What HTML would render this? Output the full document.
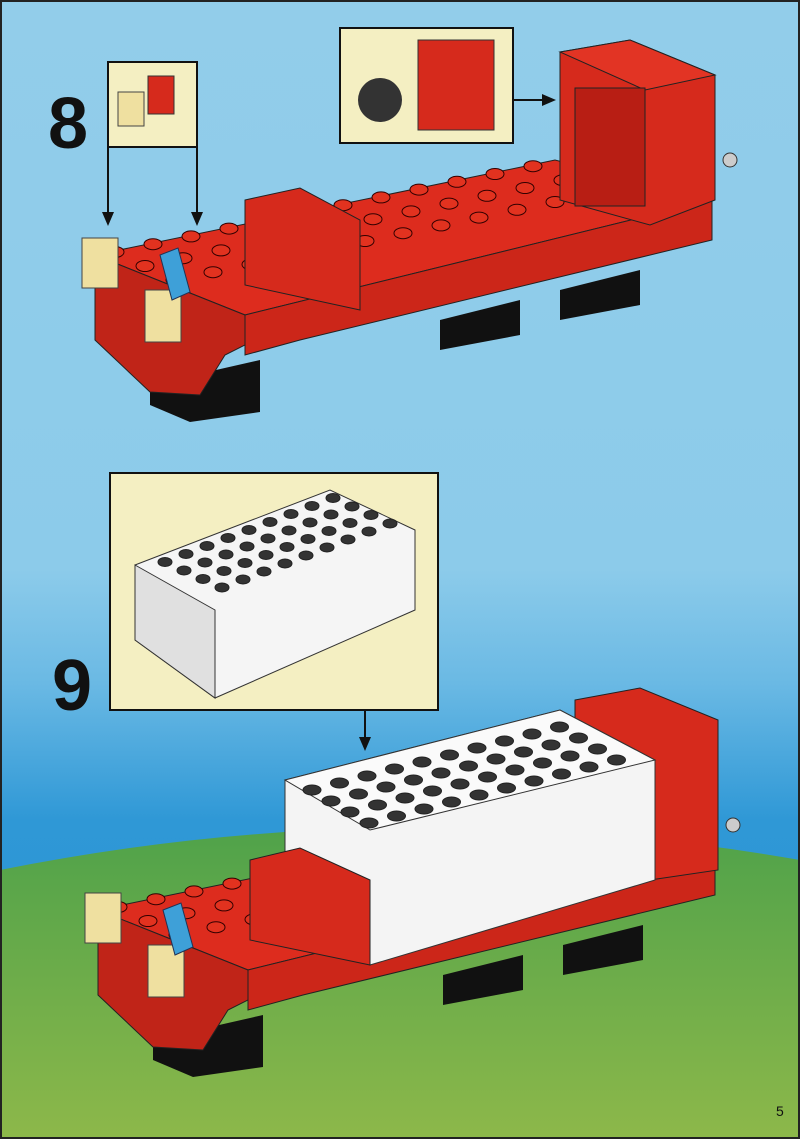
<!DOCTYPE html>
<html><head><meta charset="utf-8"><style>
html,body{margin:0;padding:0;width:800px;height:1139px;overflow:hidden;background:#8fcbe9}
svg{display:block}
text{font-family:"Liberation Sans",sans-serif}
</style></head><body>
<svg id="s" width="800" height="1139" viewBox="0 0 800 1139" xmlns="http://www.w3.org/2000/svg">
<defs>
<linearGradient id="sky" x1="0" y1="0" x2="0" y2="1">
<stop offset="0" stop-color="#92cdea"/>
<stop offset="0.5" stop-color="#8ccbea"/>
<stop offset="0.6" stop-color="#6ab9e4"/>
<stop offset="0.72" stop-color="#2f98d6"/>
<stop offset="1" stop-color="#2a8fd0"/>
</linearGradient>
<linearGradient id="grass" x1="0" y1="0" x2="0" y2="1">
<stop offset="0" stop-color="#4fa24a"/>
<stop offset="1" stop-color="#8db84a"/>
</linearGradient>
<g id="chassis">
  <polygon points="150,385 260,360 260,412 190,422 150,405" fill="#111"/>
  <polygon points="440,320 520,300 520,335 440,350" fill="#111"/>
  <polygon points="560,290 640,270 640,305 560,320" fill="#111"/>
  <polygon points="95,255 555,160 712,200 245,315" fill="#dd2c1e" stroke="#222"/>
  <polygon points="95,255 245,315 245,345 225,355 200,395 150,392 95,340" fill="#c02418" stroke="#222"/>
  <polygon points="245,315 712,200 712,240 300,340 245,355" fill="#cc2619" stroke="#222"/>
  <g id="studs" fill="#e2321f" stroke="#300" stroke-width="1"></g>
  <rect x="82" y="238" width="36" height="50" fill="#efe0a0" stroke="#444"/>
  <rect x="145" y="290" width="36" height="52" fill="#efe0a0" stroke="#444"/>
  <polygon points="160,255 178,248 190,292 172,300" fill="#3ea0d8" stroke="#235"/>
</g>
</defs>
<rect width="800" height="1139" fill="url(#sky)"/>
<path d="M0 870 Q400 790 800 860 V1139 H0 Z" fill="url(#grass)"/>

<text x="48" y="148" font-size="72" font-weight="bold" fill="#111">8</text>
<rect x="108" y="62" width="89" height="85" fill="#f4efc2" stroke="#111" stroke-width="2"/>
<rect x="118" y="92" width="26" height="34" fill="#efe0a0" stroke="#444"/>
<rect x="148" y="76" width="26" height="38" fill="#d62a1c" stroke="#333"/>
<path d="M108 147 V222 M197 147 V222" stroke="#111" stroke-width="2"/>
<path d="M102 212 L108 226 L114 212 Z M191 212 L197 226 L203 212 Z" fill="#111"/>

<rect x="340" y="28" width="173" height="115" fill="#f4efc2" stroke="#111" stroke-width="2"/>
<rect x="418" y="40" width="76" height="90" fill="#d62a1c" stroke="#333"/>
<circle cx="380" cy="100" r="22" fill="#333"/>
<path d="M513 100 H550" stroke="#111" stroke-width="2"/>
<path d="M542 94 L556 100 L542 106 Z" fill="#111"/>

<use href="#chassis"/>
<polygon points="560,52 630,40 715,75 715,200 650,225 560,200" fill="#d62a1c" stroke="#222"/>
<polygon points="560,52 630,40 715,75 645,90" fill="#e23424" stroke="#222"/>
<rect x="575" y="88" width="70" height="118" fill="#b81e14" stroke="#222"/>
<polygon points="245,200 300,188 360,220 360,310 245,285" fill="#d62a1c" stroke="#222"/>
<circle cx="730" cy="160" r="7" fill="#ccc" stroke="#333"/>

<text x="52" y="710" font-size="72" font-weight="bold" fill="#111">9</text>
<rect x="110" y="473" width="328" height="237" fill="#f4efc2" stroke="#111" stroke-width="2"/>
<polygon points="135,565 330,490 415,530 415,610 215,698 135,640" fill="#f5f5f5" stroke="#333"/>
<polygon points="135,565 215,610 215,698 135,640" fill="#e0e0e0" stroke="#333"/>
<g id="wstuds1" fill="#f8f8f8" stroke="#222"></g>
<path d="M365 710 V745" stroke="#111" stroke-width="2"/>
<path d="M359 737 L365 751 L371 737 Z" fill="#111"/>

<use href="#chassis" transform="translate(3,655)"/>
<polygon points="575,700 640,688 718,720 718,870 650,880 575,860" fill="#d62a1c" stroke="#222"/>
<polygon points="285,780 560,710 655,760 655,880 370,965 285,930" fill="#f4f4f4" stroke="#333"/>
<polygon points="285,780 560,710 655,760 370,830" fill="#fafafa" stroke="#333"/>
<g id="wstuds2" fill="#f8f8f8" stroke="#222"></g>
<polygon points="250,860 300,848 370,880 370,965 250,940" fill="#d62a1c" stroke="#222"/>
<circle cx="733" cy="825" r="7" fill="#ccc" stroke="#333"/>

<text x="776" y="1116" font-size="14" fill="#111">5</text>
<rect x="1" y="1" width="798" height="1137" fill="none" stroke="#222" stroke-width="2"/>
</svg>
<script>
var ns='http://www.w3.org/2000/svg';
function st(id,x0,y0,ux,uy,vx,vy,ni,nj,rx,ry,fill){
 var g=document.getElementById(id);
 for(var i=0;i<ni;i++)for(var j=0;j<nj;j++){
  var e=document.createElementNS(ns,'ellipse');
  e.setAttribute('cx',x0+i*ux+j*vx);e.setAttribute('cy',y0+i*uy+j*vy);
  e.setAttribute('rx',rx);e.setAttribute('ry',ry);
  if(fill)e.setAttribute('fill',fill);
  g.appendChild(e);
 }
}
st('studs',115,252,38,-7.8,30,14,12,3,9,5.5);
st('wstuds1',165,562,21,-8,19,8.5,9,4,7,4.5,'#333');
st('wstuds2',312,790,27.5,-7,19,11,10,4,9,5,'#333');
</script>
</body></html>
